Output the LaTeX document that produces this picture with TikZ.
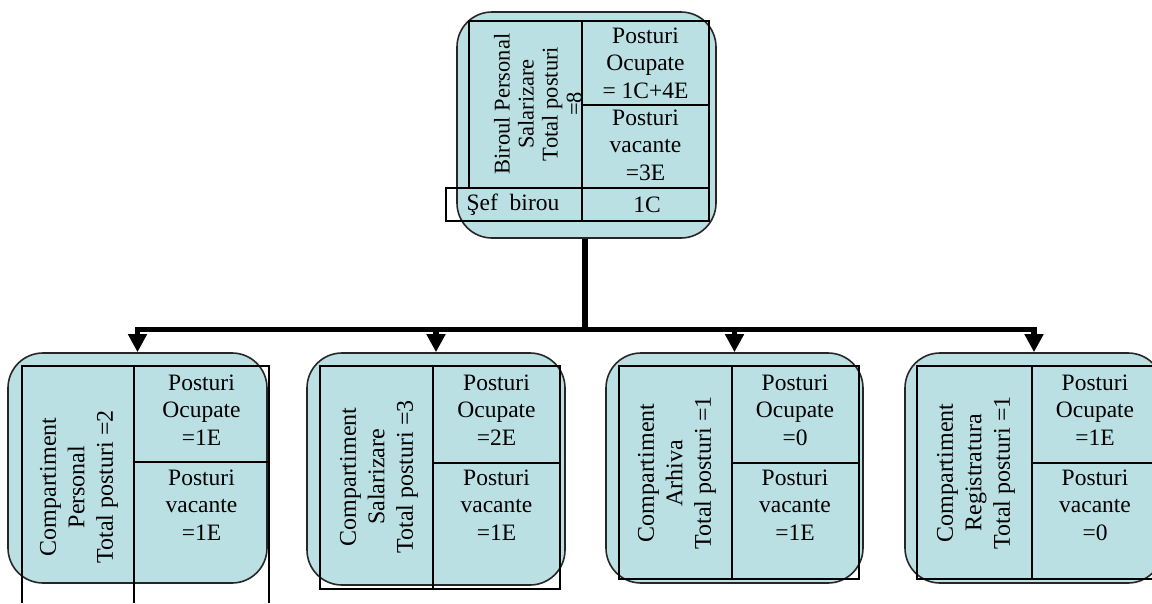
\documentclass[tikz,border=0pt]{standalone}
\usepackage{fontspec}
\setmainfont{Liberation Serif}
\usetikzlibrary{positioning,arrows.meta}
\definecolor{unitfill}{RGB}{187,224,227}

\begin{document}
\begin{tikzpicture}[x=1pt, y=-1pt,
  every node/.style={font=\fontsize{23.5}{27.5}\selectfont, align=center, inner sep=0pt},
  unit/.style={draw=black!85, fill=unitfill, rounded corners=35pt, line width=1.6pt},
  grid/.style={draw=black, line width=2pt},
  side/.style={rotate=90, font=\fontsize{24}{28.5}\selectfont},
  trunk/.style={line width=6pt},
  feed/.style={line width=5.5pt, -{Triangle[width=18pt, length=18pt]}}
]
\useasboundingbox (0,0) rectangle (1152,603);
\clip (0,0) rectangle (1152,603);

% rounded units
\node[unit, minimum width=259pt, minimum height=226pt] (birou) at (586.5,125) {};
\node[unit, minimum width=259pt, minimum height=230pt] (personal) at (137.5,468) {};
\node[unit, minimum width=258pt, minimum height=232pt] (salarizare) at (436,469) {};
\node[unit, minimum width=257pt, minimum height=230pt] (arhiva) at (734.5,468) {};
\node[unit, minimum width=258pt, minimum height=230pt] (registratura) at (1034,468) {};

% tables inside the units
\draw[grid] (469,21) rectangle (709,188);
\draw[grid] (582,21) -- (582,221);
\draw[grid] (582,105) -- (709,105);
\draw[grid] (446,188) rectangle (709,221);

\draw[grid] (22,603) -- (22,366) -- (269,366) -- (269,603);
\draw[grid] (134,366) -- (134,603);
\draw[grid] (134,462) -- (269,462);

\draw[grid] (320,366) rectangle (560,589);
\draw[grid] (433,366) -- (433,589);
\draw[grid] (433,463) -- (560,463);

\draw[grid] (619,366) rectangle (859,579);
\draw[grid] (732,366) -- (732,579);
\draw[grid] (732,463) -- (859,463);

\draw[grid] (917,366) rectangle (1175,579);
\draw[grid] (1032,366) -- (1032,579);
\draw[grid] (1032,463) -- (1175,463);

% texts
\node[side, font=\fontsize{22.5}{24}\selectfont] (birou-t) at (538,104) {Biroul Personal\\Salarizare\\Total posturi\\=8};
\node (birou-o) at (645.5,63) {Posturi\\Ocupate\\= 1C+4E};
\node (birou-v) at (645.5,145) {Posturi\\vacante\\=3E};
\node (sef) at (513,205) {Şef\ \ birou};
\node (sef-n) at (647,205) {1C};

\node[side] (personal-t) at (79,487) {Compartiment\\Personal\\Total posturi =2};
\node (personal-o) at (201.5,410) {Posturi\\Ocupate\\=1E};
\node (personal-v) at (201.5,505) {Posturi\\vacante\\=1E};

\node[side] (salarizare-t) at (379,477) {Compartiment\\Salarizare\\Total posturi =3};
\node (salarizare-o) at (496.5,410) {Posturi\\Ocupate\\=2E};
\node (salarizare-v) at (496.5,505) {Posturi\\vacante\\=1E};

\node[side] (arhiva-t) at (677,473) {Compartiment\\Arhiva\\Total posturi =1};
\node (arhiva-o) at (795,410) {Posturi\\Ocupate\\=0};
\node (arhiva-v) at (795,505) {Posturi\\vacante\\=1E};

\node[side] (registratura-t) at (976,473) {Compartiment\\Registratura\\Total posturi =1};
\node (registratura-o) at (1095,410) {Posturi\\Ocupate\\=1E};
\node (registratura-v) at (1095,505) {Posturi\\vacante\\=0};

% connectors
\coordinate (split) at (585,329.5);
\draw[trunk] (birou.south -| split) -- (split);
\foreach \u in {personal,salarizare,arhiva,registratura}
  \draw[feed] (split) -| (\u.north);
\end{tikzpicture}
\end{document}
